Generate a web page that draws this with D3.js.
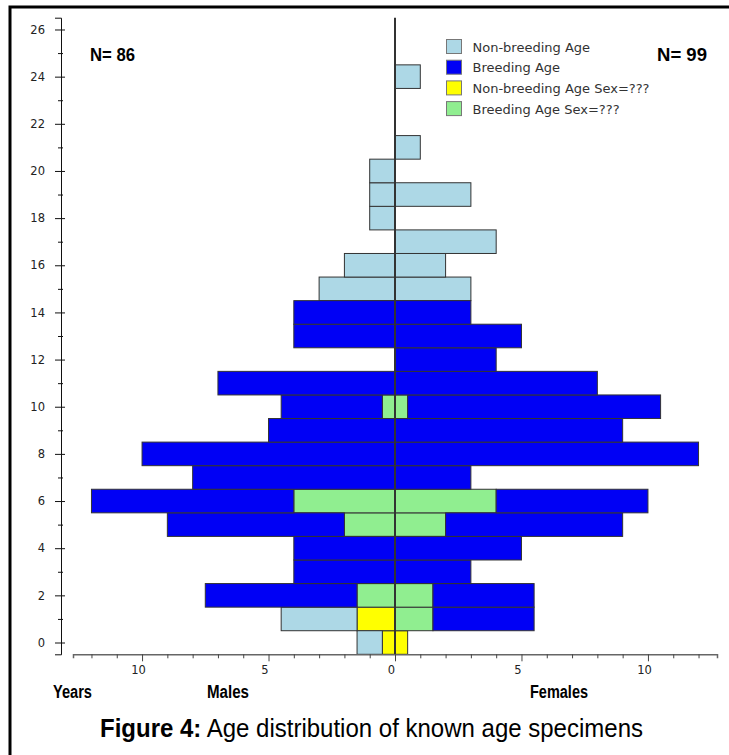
<!DOCTYPE html>
<html>
<head>
<meta charset="utf-8">
<script src="https://cdn.jsdelivr.net/npm/d3@7"></script>
<style>
  body { margin: 0; background: #fff; }
</style>
</head>
<body>
<div id="grafico"></div>
<script>
// Pirámide de edades: machos a la izquierda, hembras a la derecha
const edades = d3.range(0, 25);

// Valores por edad (0..24)
const machosNoReprod    = [1, 3, 0, 0, 0, 0, 0, 0, 0, 0, 0, 0, 0, 0, 0, 3, 2, 0, 1, 1, 1, 0, 0, 0, 0];
const machosReprod      = [0, 0, 6, 4, 4, 7, 8, 8, 10, 5, 4, 7, 0, 4, 4, 0, 0, 0, 0, 0, 0, 0, 0, 0, 0];
const machosNoReprodInd = [0.5, 1.5, 0, 0, 0, 0, 0, 0, 0, 0, 0, 0, 0, 0, 0, 0, 0, 0, 0, 0, 0, 0, 0, 0, 0];
const machosReprodInd   = [0, 0, 1.5, 0, 0, 2, 4, 0, 0, 0, 0.5, 0, 0, 0, 0, 0, 0, 0, 0, 0, 0, 0, 0, 0, 0];

const hembrasNoReprod    = [0, 0, 0, 0, 0, 0, 0, 0, 0, 0, 0, 0, 0, 0, 0, 3, 2, 4, 0, 3, 0, 1, 0, 0, 1];
const hembrasReprod      = [0, 4, 4, 3, 5, 7, 6, 3, 12, 9, 10, 8, 4, 5, 3, 0, 0, 0, 0, 0, 0, 0, 0, 0, 0];
const hembrasNoReprodInd = [0.5, 0, 0, 0, 0, 0, 0, 0, 0, 0, 0, 0, 0, 0, 0, 0, 0, 0, 0, 0, 0, 0, 0, 0, 0];
const hembrasReprodInd   = [0, 1.5, 1.5, 0, 0, 2, 4, 0, 0, 0, 0.5, 0, 0, 0, 0, 0, 0, 0, 0, 0, 0, 0, 0, 0, 0];

const etiquetasLeyenda = ["Non-breeding Age", "Breeding Age", "Non-breeding Age Sex=???", "Breeding Age Sex=???"];
const coloresLeyenda = ["#add8e6", "#0000f5", "#ffff00", "#90ee90"];
const ticksY = d3.range(0, 27, 2);
const ticksX = d3.range(-12, 13, 1);
const ticksXEtiqueta = [-10, -5, 0, 5, 10];
const totalMachos = 86;
const totalHembras = 99;

// Orden de apilado: desde el centro hacia fuera
const claves = ["noReprodInd", "reprodInd", "noReprod", "reprod"];
const colorPorClave = {
    noReprod: coloresLeyenda[0],
    reprod: coloresLeyenda[1],
    noReprodInd: coloresLeyenda[2],
    reprodInd: coloresLeyenda[3]
};

const tablaMachos = edades.map(e => ({
    edad: e, noReprod: machosNoReprod[e], reprod: machosReprod[e],
    noReprodInd: machosNoReprodInd[e], reprodInd: machosReprodInd[e]
}));
const tablaHembras = edades.map(e => ({
    edad: e, noReprod: hembrasNoReprod[e], reprod: hembrasReprod[e],
    noReprodInd: hembrasNoReprodInd[e], reprodInd: hembrasReprodInd[e]
}));

const apilar = d3.stack().keys(claves);
const pilasMachos = apilar(tablaMachos);
const pilasHembras = apilar(tablaHembras);

const ancho = 729;
const alto = 755;

const svg = d3.select("#grafico")
    .append("svg")
    .attr("width", ancho)
    .attr("height", alto);

// Escalas
const x = d3.scaleLinear().domain([-12.73, 12.73]).range([73, 717]);
const y = d3.scaleLinear().domain([-0.5, 26.5]).range([654.3, 17.7]);
const altoFila = y(0) - y(1);

// Marco
svg.append("path")
    .attr("d", `M10,${alto} L10,7 L${ancho},7`)
    .attr("fill", "none")
    .attr("stroke", "#000")
    .attr("stroke-width", 3);

// Barras
function dibujarLado(pilas, signo) {
    pilas.forEach(serie => {
        svg.append("g")
            .selectAll("rect")
            .data(serie.filter(d => d[1] > d[0]))
            .enter()
            .append("rect")
            .attr("x", d => signo < 0 ? x(-d[1]) : x(d[0]))
            .attr("width", d => x(d[1]) - x(d[0]))
            .attr("y", d => y(d.data.edad + 0.5))
            .attr("height", altoFila)
            .attr("fill", colorPorClave[serie.key])
            .attr("stroke", "#333")
            .attr("stroke-width", 1);
    });
}
dibujarLado(pilasMachos, -1);
dibujarLado(pilasHembras, 1);

// Línea central
svg.append("line")
    .attr("x1", x(0)).attr("x2", x(0))
    .attr("y1", y(26.5)).attr("y2", y(-0.5))
    .attr("stroke", "#333")
    .attr("stroke-width", 2);

// Eje Y
const ejeY = svg.append("g")
    .attr("transform", `translate(61,0)`)
    .call(d3.axisLeft(y).tickValues(d3.range(0, 27, 1)).tickSizeOuter(0).tickSize(6).tickPadding(10)
        .tickFormat(d => ticksY.includes(d) ? d : ""));
ejeY.select(".domain").attr("stroke", "#111");
ejeY.selectAll(".tick line")
    .attr("stroke", "#111")
    .attr("x1", d => ticksY.includes(d) ? 4 : 2)
    .attr("x2", d => ticksY.includes(d) ? -6 : -3);
ejeY.selectAll(".tick text")
    .style("font-family", "DejaVu Sans, sans-serif")
    .style("font-size", "11.5px")
    .attr("fill", "#222");

// Eje X
const ejeX = svg.append("g")
    .attr("transform", `translate(0,${y(-0.5)})`)
    .call(d3.axisBottom(x).tickValues(ticksX).tickSizeOuter(0).tickSize(4).tickPadding(8)
        .tickFormat(d => ticksXEtiqueta.includes(d) ? Math.abs(d) : ""));
ejeX.select(".domain").attr("stroke", "#666").attr("stroke-width", 1.5);
ejeX.selectAll(".tick line")
    .attr("stroke", "#444")
    .attr("y2", d => ticksXEtiqueta.includes(d) ? 7 : 4);
ejeX.selectAll(".tick text")
    .attr("dx", -4)
    .style("font-family", "DejaVu Sans, sans-serif")
    .style("font-size", "11.5px")
    .attr("fill", "#222");

// Textos en negrita estrecha (se comprimen con textLength)
const fuenteEstrecha = "Liberation Sans Narrow, Arial Narrow, Liberation Sans, sans-serif";
function textoNegrita(tx, ty, texto, largo) {
    svg.append("text")
        .attr("x", tx)
        .attr("y", ty)
        .attr("textLength", largo)
        .attr("lengthAdjust", "spacingAndGlyphs")
        .style("font-family", fuenteEstrecha)
        .style("font-weight", "bold")
        .style("font-size", "18px")
        .text(texto);
}
textoNegrita(90, 61, `N= ${totalMachos}`, 45);
textoNegrita(657, 61, `N= ${totalHembras}`, 50);
textoNegrita(53, 698, "Years", 39);
textoNegrita(207, 698, "Males", 42);
textoNegrita(530, 698, "Females", 58);

// Leyenda
const leyenda = svg.selectAll(".leyenda")
    .data(etiquetasLeyenda)
    .enter()
    .append("g")
    .attr("class", "leyenda")
    .attr("transform", (d, i) => `translate(446.5,${39.5 + i * 20.7})`);

leyenda.append("rect")
    .attr("width", 15)
    .attr("height", 14)
    .attr("fill", (d, i) => coloresLeyenda[i])
    .attr("stroke", "#777")
    .attr("stroke-width", 1);

leyenda.append("text")
    .attr("x", 26)
    .attr("y", 12)
    .style("font-family", "DejaVu Sans, sans-serif")
    .style("font-size", "13px")
    .attr("fill", "#333")
    .text(d => d);

// Pie de figura
const pie = svg.append("text")
    .attr("x", 100)
    .attr("y", 737)
    .attr("textLength", 543)
    .attr("lengthAdjust", "spacingAndGlyphs")
    .style("font-family", fuenteEstrecha)
    .style("font-size", "26px");
pie.append("tspan").style("font-weight", "bold").text("Figure 4:");
pie.append("tspan").text(" Age distribution of known age specimens");
</script>
</body>
</html>
